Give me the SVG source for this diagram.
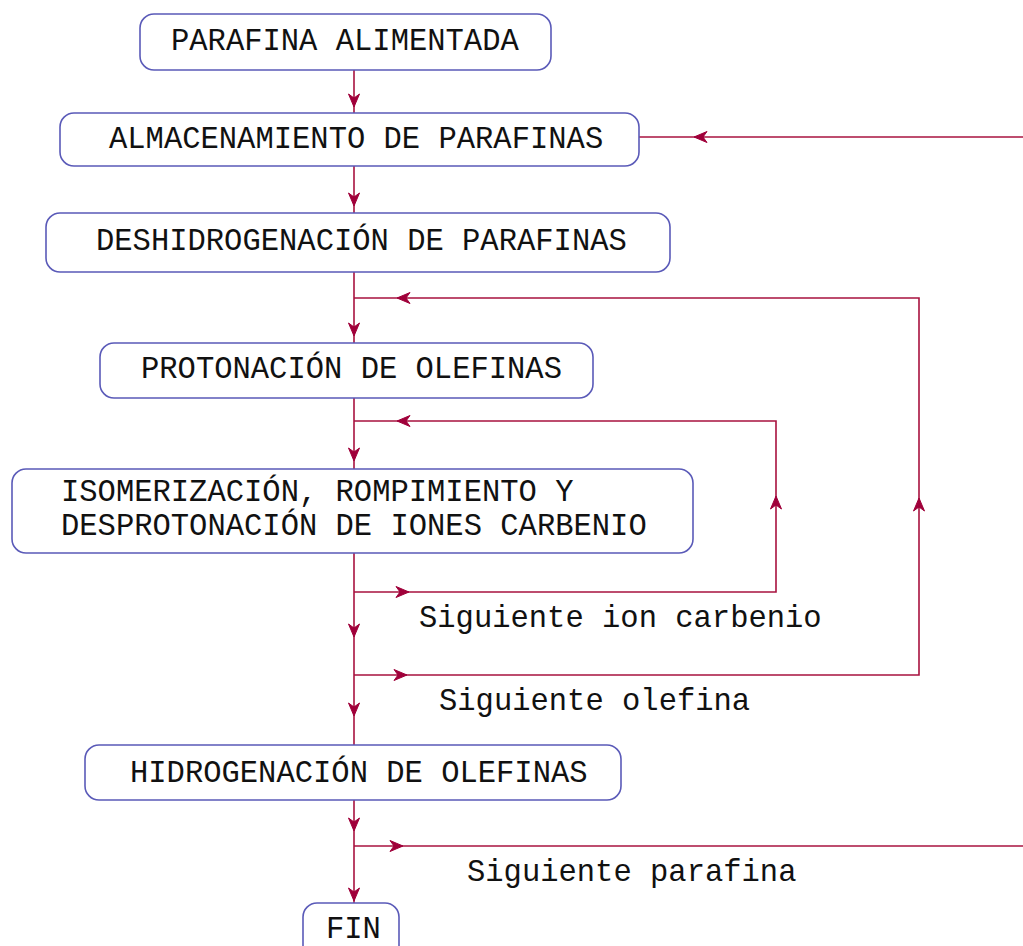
<svg xmlns="http://www.w3.org/2000/svg" xmlns:xlink="http://www.w3.org/1999/xlink" width="1023" height="946" viewBox="0 0 1023 946">
<style>
.box{fill:#fff;stroke:#5a5ab8;stroke-width:1.6}
.t{font-family:"Liberation Mono","DejaVu Sans Mono",monospace;font-size:30.5px;fill:#111}
.ln{fill:none;stroke:#a8123f;stroke-width:1.6}
.ah{fill:#a0003a;stroke:#a0003a;stroke-width:1;stroke-linejoin:round}
</style>
<defs>
<path id="ah" class="ah" d="M1,0 L-12,-5.5 L-8,0 L-12,5.5 Z"/>
</defs>
<rect width="1023" height="946" fill="#fff"/>
<g id="connectors">
<path class="ln" d="M354,70 V113"/>
<path class="ln" d="M354,166 V213"/>
<path class="ln" d="M354,272 V343"/>
<path class="ln" d="M354,398 V469"/>
<path class="ln" d="M354,553 V745"/>
<path class="ln" d="M354,800 V903"/>
<path class="ln" d="M1023,137 H639"/>
<path class="ln" d="M354,298 H919 V675 H354"/>
<path class="ln" d="M354,421 H776 V592 H354"/>
<path class="ln" d="M354,846 H1023"/>
<use xlink:href="#ah" transform="translate(354,106) rotate(90)"/>
<use xlink:href="#ah" transform="translate(354,205) rotate(90)"/>
<use xlink:href="#ah" transform="translate(354,335) rotate(90)"/>
<use xlink:href="#ah" transform="translate(354,460) rotate(90)"/>
<use xlink:href="#ah" transform="translate(354,636) rotate(90)"/>
<use xlink:href="#ah" transform="translate(354,715) rotate(90)"/>
<use xlink:href="#ah" transform="translate(354,830) rotate(90)"/>
<use xlink:href="#ah" transform="translate(354,900) rotate(90)"/>
<use xlink:href="#ah" transform="translate(695,137) rotate(180)"/>
<use xlink:href="#ah" transform="translate(398,298) rotate(180)"/>
<use xlink:href="#ah" transform="translate(398,421) rotate(180)"/>
<use xlink:href="#ah" transform="translate(408,592)"/>
<use xlink:href="#ah" transform="translate(406,675)"/>
<use xlink:href="#ah" transform="translate(402,846)"/>
<use xlink:href="#ah" transform="translate(776,497) rotate(-90)"/>
<use xlink:href="#ah" transform="translate(919,499) rotate(-90)"/>
</g>
<g id="n1"><rect class="box" x="140" y="14" width="411" height="56" rx="14"/><text class="t" x="171" y="50">PARAFINA ALIMENTADA</text></g>
<g id="n2"><rect class="box" x="60" y="113" width="579" height="53" rx="14"/><text class="t" x="109" y="148">ALMACENAMIENTO DE PARAFINAS</text></g>
<g id="n3"><rect class="box" x="46" y="213" width="624" height="59" rx="14"/><text class="t" x="96" y="250">DESHIDROGENACIÓN DE PARAFINAS</text></g>
<g id="n4"><rect class="box" x="100" y="343" width="493" height="55" rx="14"/><text class="t" x="141" y="378">PROTONACIÓN DE OLEFINAS</text></g>
<g id="n5"><rect class="box" x="12" y="469" width="681" height="84" rx="14"/><text class="t"><tspan x="61" y="501">ISOMERIZACIÓN, ROMPIMIENTO Y</tspan><tspan x="61" y="535">DESPROTONACIÓN DE IONES CARBENIO</tspan></text></g>
<g id="n6"><rect class="box" x="85" y="745" width="536" height="55" rx="14"/><text class="t" x="130" y="782">HIDROGENACIÓN DE OLEFINAS</text></g>
<g id="n7"><rect class="box" x="303" y="903" width="96" height="60" rx="14"/><text class="t" x="326" y="938">FIN</text></g>
<g id="labels">
<text class="t" x="419" y="627">Siguiente ion carbenio</text>
<text class="t" x="439" y="710">Siguiente olefina</text>
<text class="t" x="467" y="881">Siguiente parafina</text>
</g>
</svg>
